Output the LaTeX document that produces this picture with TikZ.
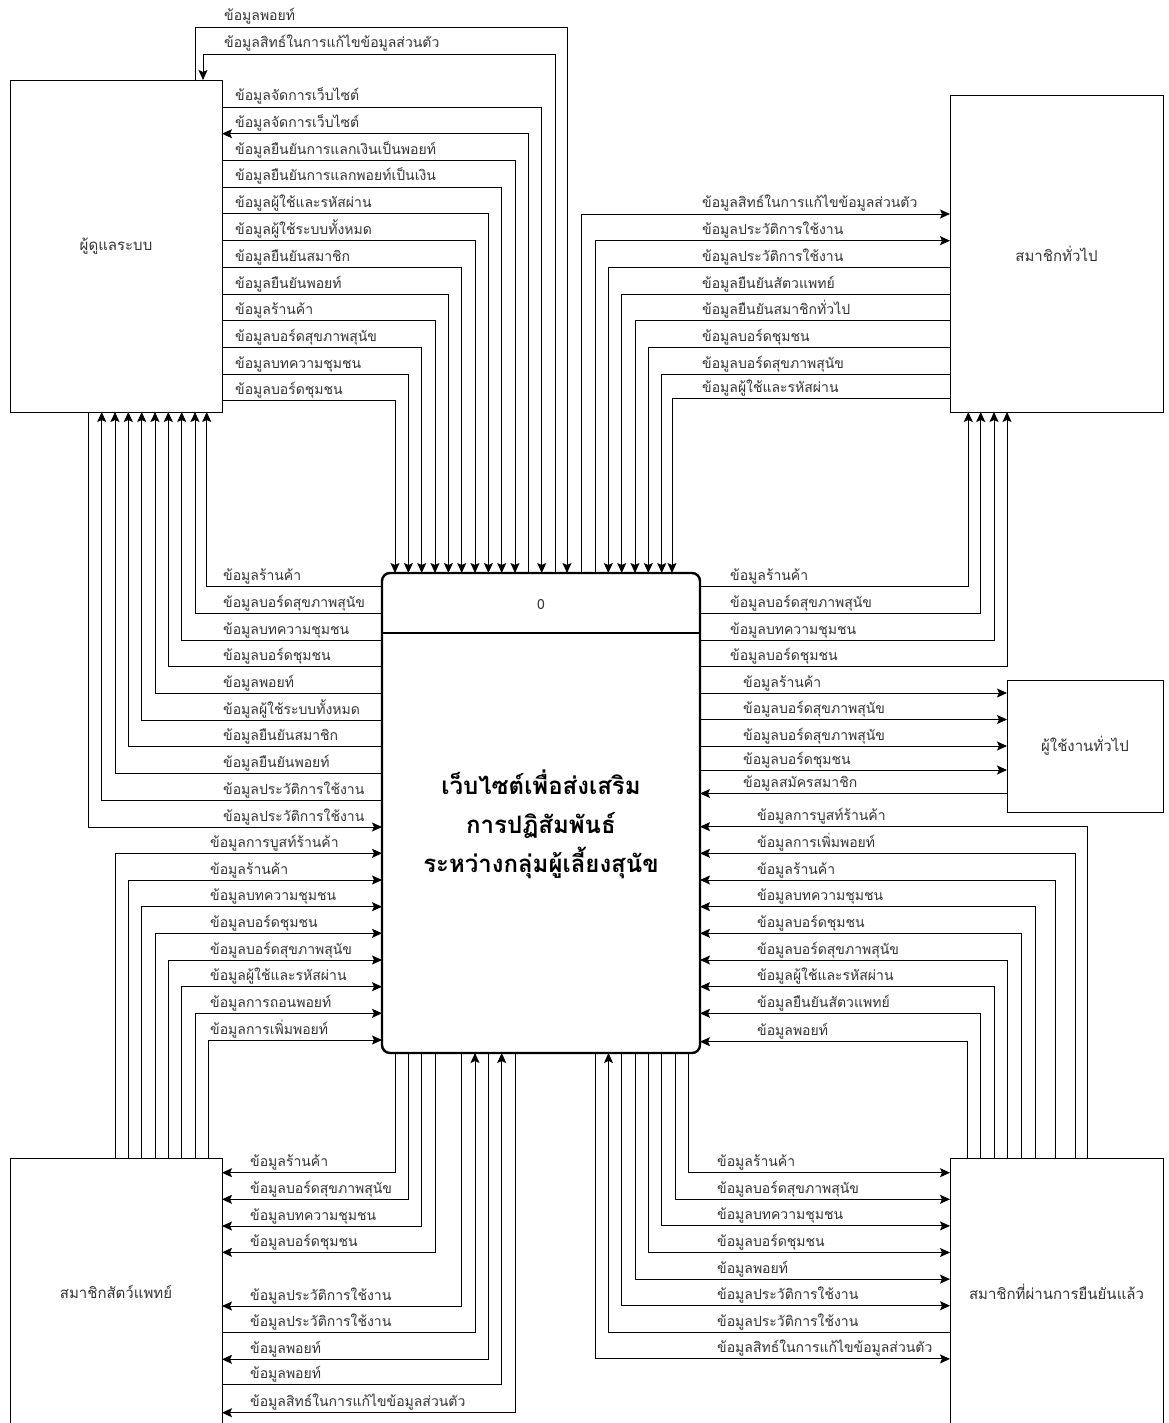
\documentclass[tikz,border=0pt]{standalone}
\usepackage{fontspec}
\setmainfont[Script=Thai]{Loma}
\usetikzlibrary{arrows.meta}
\tikzset{>={Stealth[length=10pt,width=9pt,inset=2pt]}}
\tikzset{
  entity/.style={draw,line width=0.9pt,inner sep=0pt,outer sep=0pt,
    text=black!80,font=\fontsize{15}{17}\selectfont},
  flow/.style={draw,line width=0.9pt},
  fwd/.style={->},
  bwd/.style={<-},
  lbl/.style={anchor=base west,inner sep=0pt,text=black!80,
    font=\fontsize{14}{16}\selectfont}
}

\begin{document}
\begin{tikzpicture}[x=1pt,y=-1pt]
  \useasboundingbox (0,0) rectangle (1168,1423);
  % entities
  \node[entity,minimum width=212pt,minimum height=332pt] (adm) at (116,246) {ผู้ดูแลระบบ};
  \node[entity,minimum width=213pt,minimum height=317pt] (gen) at (1056.5,253.5) {สมาชิกทั่วไป};
  \node[entity,minimum width=156pt,minimum height=132pt] (usr) at (1085,746) {ผู้ใช้งานทั่วไป};
  \node[entity,minimum width=212pt,minimum height=268pt] (vet) at (116,1292) {สมาชิกสัตว์แพทย์};
  \node[entity,minimum width=213pt,minimum height=268pt] (ver) at (1056.5,1292) {สมาชิกที่ผ่านการยืนยันแล้ว};
  % process
  \node[draw,line width=2.4pt,rounded corners=8pt,inner sep=0pt,outer sep=0pt,
        minimum width=318pt,minimum height=480pt] (proc) at (541,813) {};
  \draw[line width=1.5pt] (proc.west |- 0,633) -- (proc.east |- 0,633);
  \node[text=black!80,font=\fontsize{14}{16}\selectfont] (pid) at (541,605) {0};
  \node[align=center,font=\bfseries\fontsize{24}{39}\selectfont] (ptitle) at (541,824)
    {เว็บไซต์เพื่อส่งเสริม\\การปฏิสัมพันธ์\\ระหว่างกลุ่มผู้เลี้ยงสุนัข};

  % admin, over the top
  \draw[flow,->] (adm.north -| 195,0) |- (567,27) -- (proc.north -| 567,0);
  \draw[flow,<-] (adm.north -| 203,0) |- (555,54) -- (proc.north -| 555,0);
  \node[lbl] (a1) at (224,21) {ข้อมูลพอยท์};
  \node[lbl] (a2) at (224,48) {ข้อมูลสิทธ์ในการแก้ไขข้อมูลส่วนตัว};

  % admin, right side
  \foreach \y/\x/\d/\t [count=\n] in {
      107/541.7/fwd/ข้อมูลจัดการเว็บไซต์,
      133.7/528.4/bwd/ข้อมูลจัดการเว็บไซต์,
      160.4/515/fwd/ข้อมูลยืนยันการแลกเงินเป็นพอยท์,
      187/501.7/fwd/ข้อมูลยืนยันการแลกพอยท์เป็นเงิน,
      213.8/488.4/fwd/ข้อมูลผู้ใช้และรหัสผ่าน,
      240.5/475/fwd/ข้อมูลผู้ใช้ระบบทั้งหมด,
      267.2/461.7/fwd/ข้อมูลยืนยันสมาชิก,
      294/448.4/fwd/ข้อมูลยืนยันพอยท์,
      320.6/435/fwd/ข้อมูลร้านค้า,
      347.3/421.7/fwd/ข้อมูลบอร์ดสุขภาพสุนัข,
      374/408.4/fwd/ข้อมูลบทความชุมชน,
      400.7/395/fwd/ข้อมูลบอร์ดชุมชน} {
    \draw[flow,\d] (adm.east |- 0,\y) -| (proc.north -| \x,0);
    \node[lbl] (b\n) at (235,\y-6) {\t};
  }

  % admin, bottom side
  \foreach \y/\x/\d/\t [count=\n] in {
      586.7/206.7/bwd/ข้อมูลร้านค้า,
      613.4/195/bwd/ข้อมูลบอร์ดสุขภาพสุนัข,
      640/181.7/bwd/ข้อมูลบทความชุมชน,
      666.8/168.3/bwd/ข้อมูลบอร์ดชุมชน,
      693.5/155/bwd/ข้อมูลพอยท์,
      720.2/141.7/bwd/ข้อมูลผู้ใช้ระบบทั้งหมด,
      746.9/128.3/bwd/ข้อมูลยืนยันสมาชิก,
      773.6/115/bwd/ข้อมูลยืนยันพอยท์,
      800.3/101.7/bwd/ข้อมูลประวัติการใช้งาน,
      827/88.3/fwd/ข้อมูลประวัติการใช้งาน} {
    \draw[flow,\d] (adm.south -| \x,0) |- (proc.west |- 0,\y);
    \node[lbl] (c\n) at (223,\y-6) {\t};
  }

  % vet, top side
  \foreach \y/\x/\t [count=\n] in {
      853.3/115/ข้อมูลการบูสท์ร้านค้า,
      880/128.3/ข้อมูลร้านค้า,
      906.7/141.7/ข้อมูลบทความชุมชน,
      933.3/155/ข้อมูลบอร์ดชุมชน,
      960/168.3/ข้อมูลบอร์ดสุขภาพสุนัข,
      986.7/181.7/ข้อมูลผู้ใช้และรหัสผ่าน,
      1013.3/195/ข้อมูลการถอนพอยท์,
      1040/208.3/ข้อมูลการเพิ่มพอยท์} {
    \draw[flow,->] (vet.north -| \x,0) |- (proc.west |- 0,\y);
    \node[lbl] (d\n) at (210,\y-6) {\t};
  }

  % vet, right side
  \foreach \y/\x/\d/\t [count=\n] in {
      1172.7/395/bwd/ข้อมูลร้านค้า,
      1199.3/408.3/bwd/ข้อมูลบอร์ดสุขภาพสุนัข,
      1226/421.7/bwd/ข้อมูลบทความชุมชน,
      1252.3/435/bwd/ข้อมูลบอร์ดชุมชน,
      1306/461.7/bwd/ข้อมูลประวัติการใช้งาน,
      1332.3/475/fwd/ข้อมูลประวัติการใช้งาน,
      1359.3/488.3/bwd/ข้อมูลพอยท์,
      1384/501.7/fwd/ข้อมูลพอยท์,
      1412.7/515/bwd/ข้อมูลสิทธ์ในการแก้ไขข้อมูลส่วนตัว} {
    \draw[flow,\d] (vet.east |- 0,\y) -| (proc.south -| \x,0);
    \node[lbl] (e\n) at (250,\y-6) {\t};
  }

  % verified, left side
  \foreach \y/\x/\d/\t [count=\n] in {
      1172.7/688.3/bwd/ข้อมูลร้านค้า,
      1199.3/675/bwd/ข้อมูลบอร์ดสุขภาพสุนัข,
      1225.9/661.7/bwd/ข้อมูลบทความชุมชน,
      1252.5/648.4/bwd/ข้อมูลบอร์ดชุมชน,
      1279.1/635/bwd/ข้อมูลพอยท์,
      1305.7/621.8/bwd/ข้อมูลประวัติการใช้งาน,
      1332.3/608.5/fwd/ข้อมูลประวัติการใช้งาน,
      1358.9/595.2/bwd/ข้อมูลสิทธ์ในการแก้ไขข้อมูลส่วนตัว} {
    \draw[flow,\d] (ver.west |- 0,\y) -| (proc.south -| \x,0);
    \node[lbl] (f\n) at (717,\y-6) {\t};
  }

  % verified, top side
  \foreach \y/\x/\t [count=\n] in {
      826.7/1087.5/ข้อมูลการบูสท์ร้านค้า,
      853.3/1075/ข้อมูลการเพิ่มพอยท์,
      880/1055/ข้อมูลร้านค้า,
      906.7/1035/ข้อมูลบทความชุมชน,
      933.3/1021.7/ข้อมูลบอร์ดชุมชน,
      960/1007.3/ข้อมูลบอร์ดสุขภาพสุนัข,
      986.7/994/ข้อมูลผู้ใช้และรหัสผ่าน,
      1013.3/980.7/ข้อมูลยืนยันสัตวแพทย์,
      1041.7/967.3/ข้อมูลพอยท์} {
    \draw[flow,->] (ver.north -| \x,0) |- (proc.east |- 0,\y);
    \node[lbl] (g\n) at (757,\y-6) {\t};
  }

  % general user
  \foreach \y/\d/\t [count=\n] in {
      693/fwd/ข้อมูลร้านค้า,
      719.5/fwd/ข้อมูลบอร์ดสุขภาพสุนัข,
      746/fwd/ข้อมูลบอร์ดสุขภาพสุนัข,
      770/fwd/ข้อมูลบอร์ดชุมชน,
      793.5/bwd/ข้อมูลสมัครสมาชิก} {
    \draw[flow,\d] (proc.east |- 0,\y) -- (usr.west |- 0,\y);
    \node[lbl] (h\n) at (743,\y-6) {\t};
  }

  % general member, bottom side
  \foreach \y/\x/\t [count=\n] in {
      586.7/968.3/ข้อมูลร้านค้า,
      613.3/980.7/ข้อมูลบอร์ดสุขภาพสุนัข,
      640/994/ข้อมูลบทความชุมชน,
      666.7/1007/ข้อมูลบอร์ดชุมชน} {
    \draw[flow,->] (proc.east |- 0,\y) -| (gen.south -| \x,0);
    \node[lbl] (i\n) at (730,\y-6) {\t};
  }

  % general member, left side
  \foreach \y/\x/\d/\t [count=\n] in {
      214/581.7/bwd/ข้อมูลสิทธ์ในการแก้ไขข้อมูลส่วนตัว,
      240.7/595/bwd/ข้อมูลประวัติการใช้งาน,
      267.7/608.3/fwd/ข้อมูลประวัติการใช้งาน,
      294.3/621.7/fwd/ข้อมูลยืนยันสัตวแพทย์,
      320.7/635/fwd/ข้อมูลยืนยันสมาชิกทั่วไป,
      347.3/648.3/fwd/ข้อมูลบอร์ดชุมชน,
      374/661.7/fwd/ข้อมูลบอร์ดสุขภาพสุนัข,
      398.3/672/fwd/ข้อมูลผู้ใช้และรหัสผ่าน} {
    \draw[flow,\d] (gen.west |- 0,\y) -| (proc.north -| \x,0);
    \node[lbl] (j\n) at (702,\y-6) {\t};
  }
\end{tikzpicture}
\end{document}
